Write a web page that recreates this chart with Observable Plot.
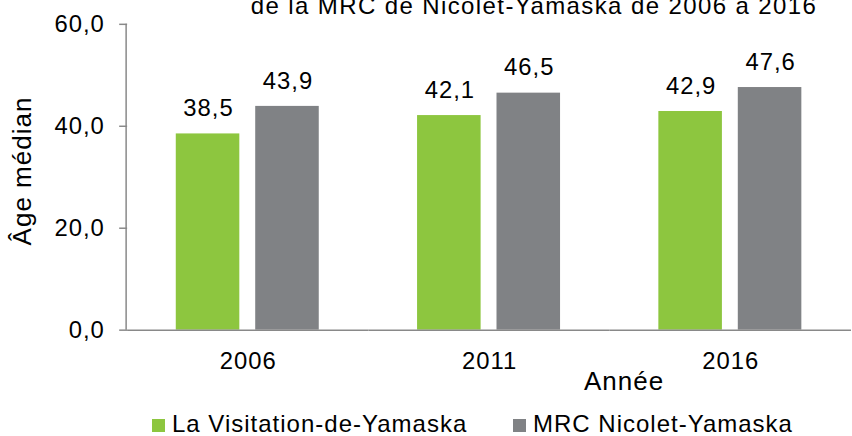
<!DOCTYPE html>
<html>
<head>
<meta charset="utf-8">
<script src="https://cdn.jsdelivr.net/npm/d3@7"></script>
<script src="https://cdn.jsdelivr.net/npm/@observablehq/plot@0.6"></script>
<style>
  html, body { margin: 0; padding: 0; background: #fff; }
  #wrap { position: relative; width: 852px; height: 436px; overflow: hidden; background: #fff;
          font-family: "Liberation Sans", Arial, sans-serif; color: #000; }
  #chart { position: absolute; left: 0; top: 0; }
  .abs { position: absolute; white-space: nowrap; line-height: 24px; }
  #title { left: 534px; top: -6.5px; transform: translateX(-50%); font-size: 24px; letter-spacing: 1.4px; }
  #ylabel { left: 22px; top: 171px; transform: translate(-50%, -50%) rotate(-90deg); font-size: 26px; letter-spacing: 1px; line-height: 26px; }
  #xlabel { left: 624px; top: 381px; transform: translate(-50%, -50%); font-size: 26px; letter-spacing: 1px; line-height: 26px; }
  .leg { font-size: 24px; letter-spacing: 1px; top: 411.5px; }
  .sw { position: absolute; width: 13px; height: 13px; top: 419px; }
</style>
</head>
<body>
<div id="wrap">
  <div id="chart"></div>
  <div id="title" class="abs">de la MRC de Nicolet-Yamaska de 2006 à 2016</div>
  <div id="ylabel" class="abs">Âge médian</div>
  <div id="xlabel" class="abs">Année</div>
  <div id="legend"></div>
</div>
<script>
const years = ["2006", "2011", "2016"];
const series = ["La Visitation-de-Yamaska", "MRC Nicolet-Yamaska"];
const visitation = [38.5, 42.1, 42.9];
const mrc = [43.9, 46.5, 47.6];
const yTicks = [0, 20, 40, 60];
const colors = ["#8dc63f", "#808285"];
const axisColor = "#898989";

const fmt = d => d.toFixed(1).replace(".", ",");

const data = years.flatMap((y, i) => [
  {year: y, series: series[0], value: visitation[i]},
  {year: y, series: series[1], value: mrc[i]}
]);

const chart = Plot.plot({
  width: 858,
  height: 400,
  marginLeft: 127,
  marginRight: 0,
  marginTop: 24,
  marginBottom: 68,
  style: {
    fontFamily: "'Liberation Sans', Arial, sans-serif",
    fontSize: "24px",
    letterSpacing: "1px",
    color: "black",
    background: "white",
    overflow: "visible"
  },
  fx: {domain: years, padding: 0, label: null},
  x: {domain: series, paddingInner: 0.1975, paddingOuter: 0.605, axis: null},
  y: {domain: [0, 60], label: null},
  color: {domain: series, range: colors},
  marks: [
    Plot.barY(data, {fx: "year", x: "series", y: "value", fill: "series"}),
    Plot.ruleY([0], {stroke: axisColor, strokeWidth: 1.5}),
    Plot.axisY({ticks: yTicks, tickFormat: fmt, tickSize: 8, tickPadding: 15,
                stroke: axisColor, strokeWidth: 1.5, fill: "black", label: null}),
    Plot.axisFx({anchor: "bottom", tickSize: 0, tickPadding: 22, fill: "black", label: null}),
    Plot.text(data, {fx: "year", x: "series", y: "value", text: d => fmt(d.value),
                     dy: -25.5, dx: 0.5, fill: "black"})
  ]
});
document.getElementById("chart").appendChild(chart);

// y axis line, placed from the chart's own scales
const fxScale = chart.scale("fx");
const yScale = chart.scale("y");
const ax = fxScale.range[0];
d3.select(chart).append("line")
  .attr("x1", ax).attr("x2", ax)
  .attr("y1", yScale.range[0]).attr("y2", yScale.range[1])
  .attr("stroke", axisColor).attr("stroke-width", 1.5);

// legend
const legend = document.getElementById("legend");
const legX = [[152, 172], [513, 533]];
series.forEach((s, i) => {
  const sw = document.createElement("div");
  sw.className = "sw";
  sw.style.left = legX[i][0] + "px";
  sw.style.background = colors[i];
  legend.appendChild(sw);
  const t = document.createElement("div");
  t.className = "abs leg";
  t.style.left = legX[i][1] + "px";
  t.textContent = s;
  legend.appendChild(t);
});
</script>
</body>
</html>
